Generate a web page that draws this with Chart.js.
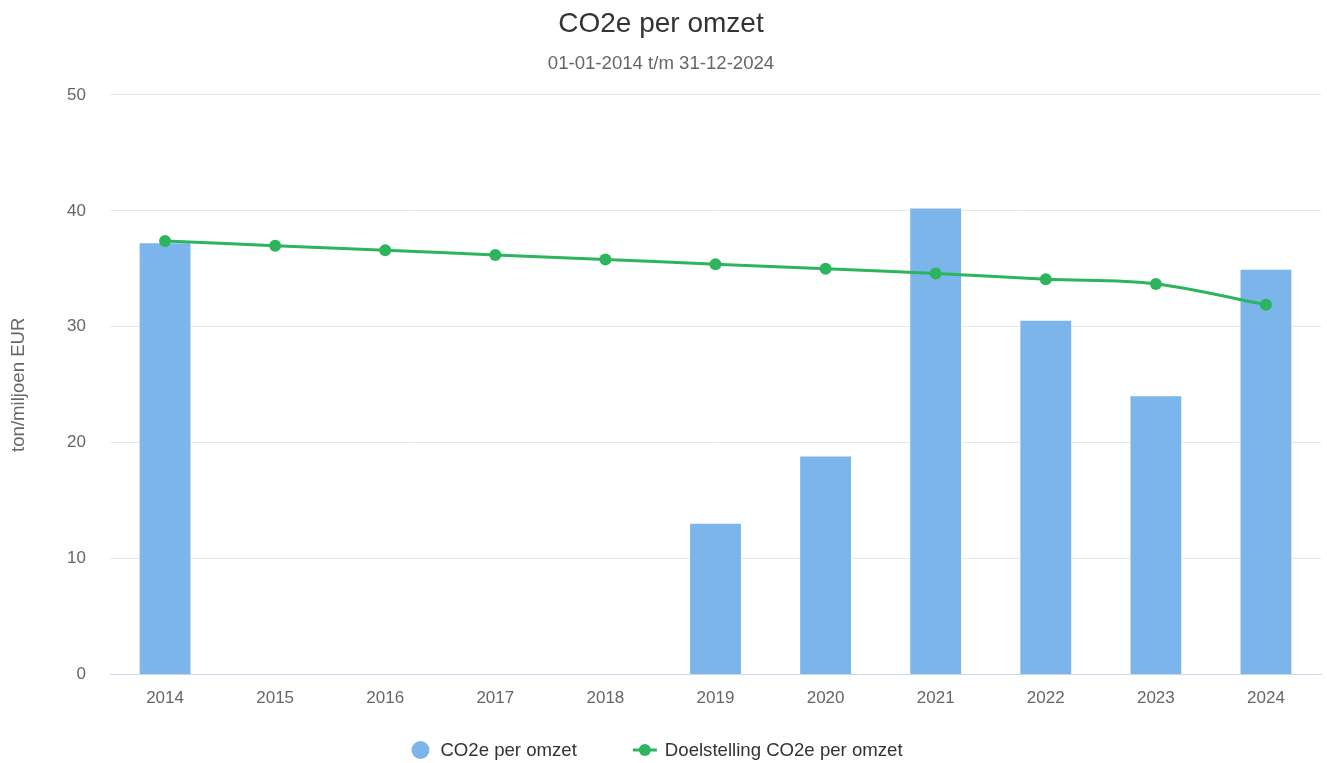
<!DOCTYPE html>
<html><head><meta charset="utf-8">
<script src="https://cdn.jsdelivr.net/npm/chart.js@4"></script>
<style>html,body{margin:0;padding:0;background:#fff}#wrap{width:1327px;height:763px;position:relative}</style>
</head><body><div id="wrap"><canvas id="c"></canvas></div>
<script>
const categories = ['2014','2015','2016','2017','2018','2019','2020','2021','2022','2023','2024'];
const co2ePerOmzet = [37.3, null, null, null, null, 13.1, 18.9, 40.3, 30.6, 24.1, 35.0];
const doelstelling = [37.4, 37.0, 36.6, 36.2, 35.8, 35.4, 35.0, 34.6, 34.1, 33.7, 31.9];
const yTickValues = [0, 10, 20, 30, 40, 50];

const FONT = '"Liberation Sans", Arial, sans-serif';
const BAR_COLOR = '#7cb5ec';
const LINE_COLOR = '#2db55e';

const hcLegend = {
  id: 'hcLegend',
  afterDraw(chart) {
    const ctx = chart.ctx;
    const y = 750;
    ctx.save();
    ctx.font = '18.6px ' + FONT;
    ctx.textBaseline = 'middle';
    ctx.textAlign = 'left';
    const ds = chart.data.datasets;
    const symW = 24, textGap = 8, itemGap = 56;
    const widths = ds.map(d => symW + textGap + ctx.measureText(d.label).width);
    const total = widths.reduce((a, b) => a + b, 0) + itemGap * (ds.length - 1);
    let x = chart.width / 2 - 8 - total / 2;
    ds.forEach((d, i) => {
      const cx = x + symW / 2;
      if (d.type === 'line') {
        ctx.strokeStyle = d.borderColor;
        ctx.lineWidth = 3;
        ctx.beginPath();
        ctx.moveTo(x, y);
        ctx.lineTo(x + symW, y);
        ctx.stroke();
        ctx.fillStyle = d.pointBackgroundColor;
        ctx.beginPath();
        ctx.arc(cx, y, 6, 0, Math.PI * 2);
        ctx.fill();
      } else {
        ctx.fillStyle = d.backgroundColor;
        ctx.beginPath();
        ctx.arc(cx, y, 9, 0, Math.PI * 2);
        ctx.fill();
      }
      ctx.fillStyle = '#333333';
      ctx.fillText(d.label, x + symW + textGap, y + 1);
      x += widths[i] + itemGap;
    });
    ctx.restore();
  }
};

new Chart(document.getElementById('c'), {
  data: {
    labels: categories,
    datasets: [
      {
        type: 'bar',
        label: 'CO2e per omzet',
        data: co2ePerOmzet,
        backgroundColor: BAR_COLOR,
        borderColor: '#ffffff',
        borderWidth: 1,
        barPercentage: 0.8,
        categoryPercentage: 0.6,
        order: 1
      },
      {
        type: 'line',
        label: 'Doelstelling CO2e per omzet',
        data: doelstelling,
        borderColor: LINE_COLOR,
        backgroundColor: LINE_COLOR,
        pointBackgroundColor: LINE_COLOR,
        pointBorderWidth: 0,
        pointRadius: 6,
        borderWidth: 3,
        tension: 0.35,
        fill: false,
        order: 0
      }
    ]
  },
  options: {
    responsive: true,
    maintainAspectRatio: false,
    animation: false,
    layout: { padding: { left: 0, right: 5, top: 7, bottom: 48 } },
    plugins: {
      legend: { display: false },
      tooltip: { enabled: false },
      title: {
        display: true,
        text: 'CO2e per omzet',
        color: '#333333',
        font: { family: FONT, size: 28, weight: 'normal' },
        padding: { top: 0, bottom: 0 }
      },
      subtitle: {
        display: true,
        text: '01-01-2014 t/m 31-12-2024',
        color: '#666666',
        font: { family: FONT, size: 18.6, weight: 'normal' },
        padding: { top: 12, bottom: 20 }
      }
    },
    scales: {
      x: {
        grid: { display: false },
        border: { display: true, color: '#ccd6eb', width: 1 },
        ticks: { color: '#666666', font: { family: FONT, size: 17 }, padding: 6, maxRotation: 0 }
      },
      y: {
        min: 0,
        max: 50,
        afterBuildTicks: s => { s.ticks = yTickValues.map(v => ({ value: v })); },
        grid: {
          color: c => (c.tick && c.tick.value === 0) ? 'rgba(0,0,0,0)' : '#e6e6e6',
          lineWidth: 1,
          drawTicks: false
        },
        border: { display: false },
        ticks: { color: '#666666', font: { family: FONT, size: 17 }, padding: 24 },
        title: {
          display: true,
          text: 'ton/miljoen EUR',
          color: '#666666',
          font: { family: FONT, size: 18.6, weight: 'normal' },
          padding: { top: 8, bottom: 0 }
        },
        afterFit: s => { s.width = 110; }
      }
    }
  },
  plugins: [hcLegend]
});
</script>
</body></html>
